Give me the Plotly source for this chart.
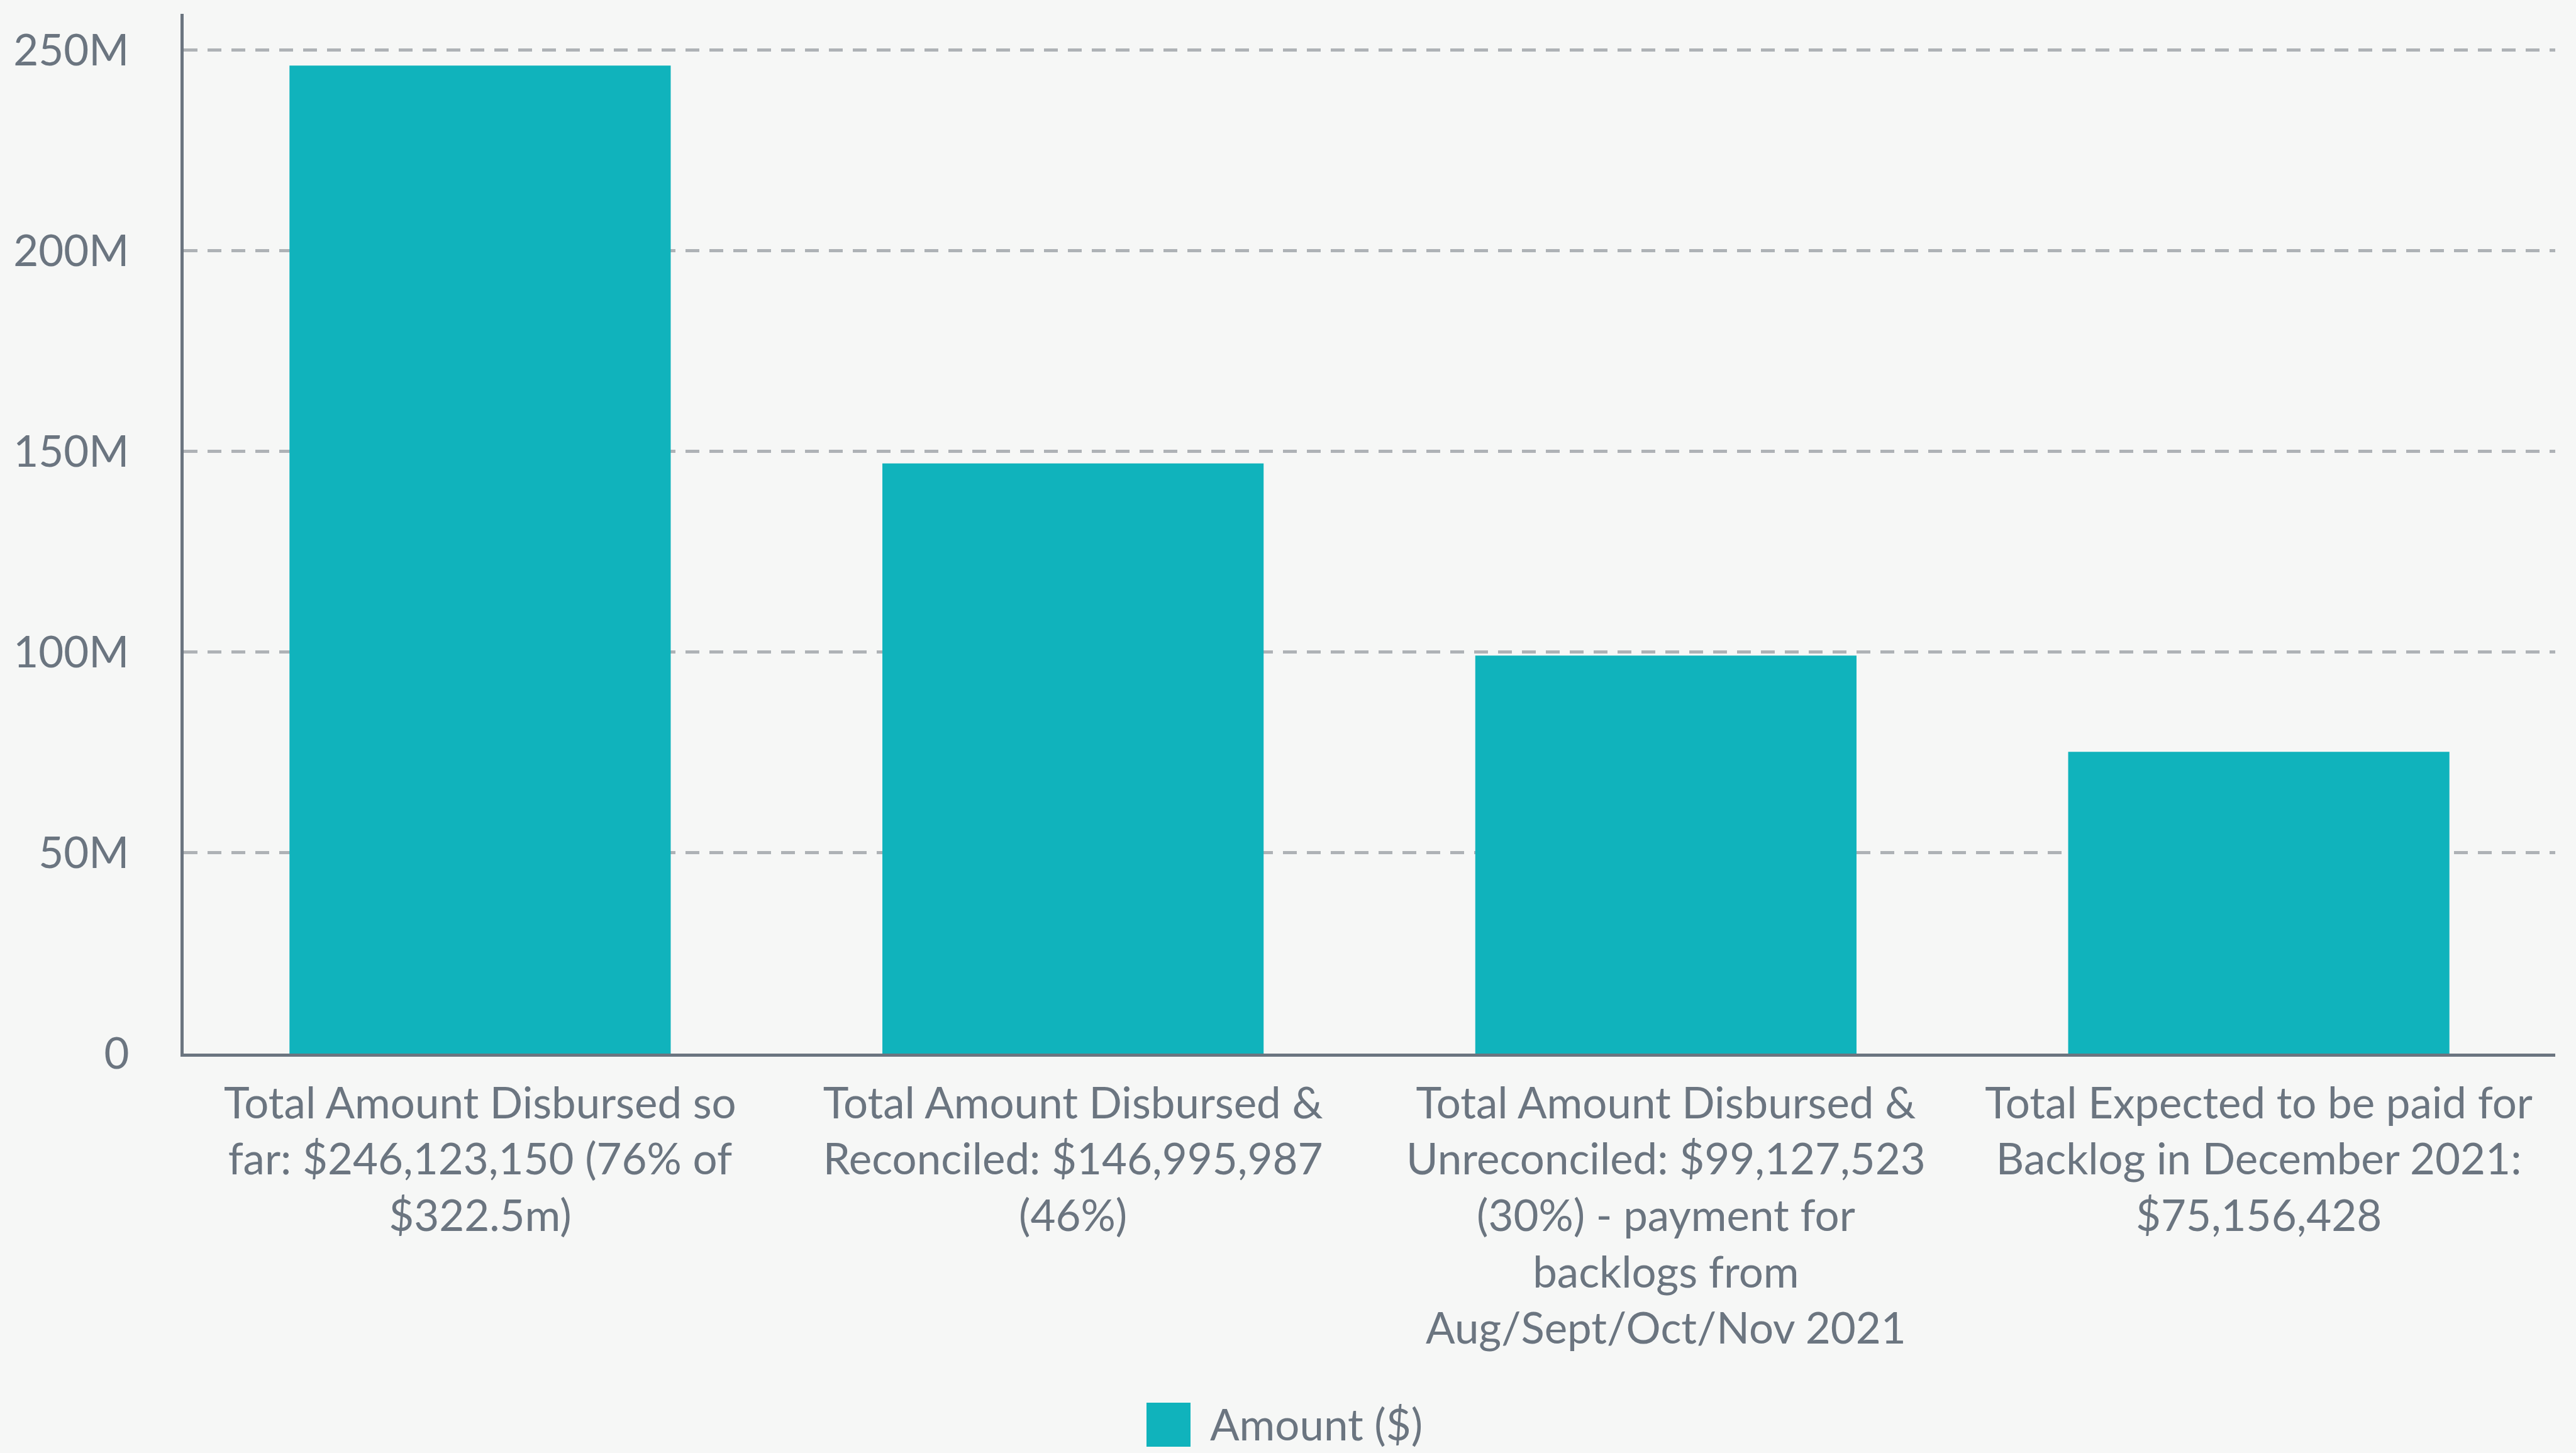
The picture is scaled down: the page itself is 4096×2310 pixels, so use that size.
import plotly.graph_objects as go

categories = [
    "Total Amount Disbursed so far: $246,123,150 (76% of $322.5m)",
    "Total Amount Disbursed & Reconciled: $146,995,987 (46%)",
    "Total Amount Disbursed & Unreconciled: $99,127,523 (30%) - payment for backlogs from Aug/Sept/Oct/Nov 2021",
    "Total Expected to be paid for Backlog in December 2021: $75,156,428",
]
tick_labels = [
    "Total Amount Disbursed so<br>far: $246,123,150 (76% of<br>$322.5m)",
    "Total Amount Disbursed &<br>Reconciled: $146,995,987<br>(46%)",
    "Total Amount Disbursed &<br>Unreconciled: $99,127,523<br>(30%) - payment for<br>backlogs from<br>Aug/Sept/Oct/Nov 2021",
    "Total Expected to be paid for<br>Backlog in December 2021:<br>$75,156,428",
]
amounts = [246123150, 146995987, 99127523, 75156428]
series_name = "Amount ($)"
y_tickvals = [0, 50e6, 100e6, 150e6, 200e6, 250e6]
y_ticktext = ["0", "50M", "100M", "150M", "200M", "250M"]

W, H = 4096, 2310
ML, MR, MT, MB = 292, 33, 22, 635
PW, PH = W - ML - MR, H - MT - MB

TEXT = "#6B7580"
BAR = "#10B3BC"
BG = "#F6F7F6"
FONT = "Lato, 'Open Sans', sans-serif"
FS = 69


def px(x):
    return (x - ML) / PW


def py(y):
    return (H - MB - y) / PH


fig = go.Figure()
fig.add_trace(go.Bar(
    x=categories, y=amounts, name=series_name,
    marker=dict(color=BAR, line=dict(width=0)),
    width=0.643, showlegend=False,
))

fig.update_layout(
    width=W, height=H,
    margin=dict(l=ML, r=MR, t=MT, b=MB, pad=0),
    paper_bgcolor=BG, plot_bgcolor="rgba(0,0,0,0)",
    font=dict(family=FONT, size=FS, color=TEXT),
    showlegend=False,
    xaxis=dict(
        tickmode="array", tickvals=categories, ticktext=tick_labels,
        showline=True, linecolor=TEXT, linewidth=4.5,
        ticks="outside", ticklen=15, tickcolor="rgba(0,0,0,0)",
        showgrid=False, zeroline=False,
        tickfont=dict(size=FS, color=TEXT, family=FONT),
    ),
    yaxis=dict(
        range=[0, 259e6], tickmode="array", tickvals=y_tickvals, ticktext=y_ticktext,
        showline=True, linecolor=TEXT, linewidth=4.5,
        showgrid=True, gridcolor="#AEB2B6", gridwidth=5, griddash="22px,16px",
        zeroline=False, ticks="", ticklabelstandoff=68,
        tickfont=dict(size=FS, color=TEXT, family=FONT),
    ),
)

# legend drawn manually (large square swatch)
fig.add_shape(type="rect", xref="paper", yref="paper",
              x0=px(1823), x1=px(1893), y0=py(2300), y1=py(2230),
              fillcolor=BAR, line=dict(width=0))
fig.add_annotation(xref="paper", yref="paper", x=px(1922), y=py(2263),
                   text=series_name, showarrow=False, xanchor="left", yanchor="middle",
                   font=dict(size=FS, color=TEXT, family=FONT))

fig.write_html(
    "out.html",
    config={"displayModeBar": False},
    post_script="document.body.style.margin='0';document.body.style.background='" + BG + "';",
)
